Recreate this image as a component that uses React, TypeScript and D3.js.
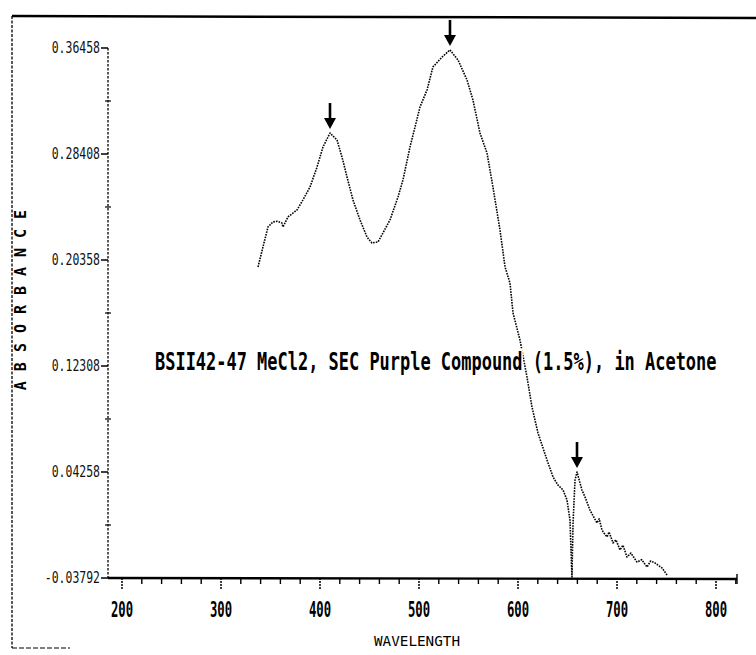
import { line, scaleLinear, range } from 'd3';

const width = 756;
const height = 655;

// spectrum: wavelength (nm) vs absorbance
const wavelengths = [
  337.4, 342.4, 347.5, 352.5, 357.0, 361.6, 362.6, 367.7, 376.8, 382.8, 389.9, 397.0, 403.0, 410.1,
  417.2, 422.2, 427.3, 433.3, 440.4, 447.5, 452.5, 458.6, 463.6, 470.7, 478.8, 483.8, 490.9, 496.0,
  501.0, 508.1, 514.1, 523.2, 531.3, 539.4, 548.5, 554.5, 561.6, 568.7, 574.7, 581.8, 586.9, 591.9,
  595.0, 602.0, 609.1, 614.1, 620.2, 629.3, 635.4, 640.0, 645.5, 649.5, 652.5, 654.5, 655.6, 657.6,
  659.6, 664.6, 668.0, 672.7, 676.0, 679.8, 682.0, 684.8, 687.0, 689.9, 692.0, 696.0, 699.0, 703.0,
  706.0, 710.1, 714.0, 720.2, 725.0, 730.3, 734.0, 738.4, 742.0, 745.5, 750.5,
];
const absorbance = [
  0.1983, 0.2135, 0.2287, 0.2325, 0.2330, 0.2317, 0.2287, 0.2363, 0.2416, 0.2492, 0.2590, 0.2742, 0.2894, 0.3000,
  0.2947, 0.2818, 0.2666, 0.2492, 0.2340, 0.2210, 0.2165, 0.2173, 0.2241, 0.2340, 0.2514, 0.2643, 0.2894, 0.3046,
  0.3198, 0.3327, 0.3502, 0.3577, 0.3631, 0.3555, 0.3403, 0.3251, 0.3000, 0.2848, 0.2590, 0.2264, 0.1983, 0.1861,
  0.1633, 0.1428, 0.1147, 0.0920, 0.0722, 0.0517, 0.0388, 0.0330, 0.0289, 0.0213, 0.0061, -0.0371, 0.0039, 0.0365,
  0.0426, 0.0289, 0.0230, 0.0137, 0.0090, 0.0039, 0.0070, -0.0014, -0.0040, -0.0067, -0.0030, -0.0113, -0.0090, -0.0166,
  -0.0130, -0.0220, -0.0190, -0.0258, -0.0240, -0.0296, -0.0250, -0.0265, -0.0285, -0.0303, -0.0356,
];

const peakWavelengths = [410.1, 531.3, 659.6];
const peakValues = [0.3, 0.3631, 0.0426];

const yTicks = [-0.03792, 0.04258, 0.12308, 0.20358, 0.28408, 0.36458];
const yTickLabels = ['-0.03792', '0.04258', '0.12308', '0.20358', '0.28408', '0.36458'];
const xTicks = [200, 300, 400, 500, 600, 700, 800];

const title = 'BSII42-47 MeCl2, SEC Purple Compound (1.5%), in Acetone';
const font = '"DejaVu Sans Mono", monospace';

export default function App() {
  const x = scaleLinear().domain([200, 800]).range([122, 716]);
  const y = scaleLinear().domain([-0.03792, 0.36458]).range([578, 48]);

  const points = wavelengths.map((w, i) => [w, absorbance[i]] as [number, number]);
  const path = line<[number, number]>()
    .x(d => x(d[0]))
    .y(d => y(d[1]))(points);

  const xMin = x.invert(108);
  const xMax = x.invert(737);
  const minorX = range(200, 821, 20).filter(v => v % 100 !== 0);
  const minorY = yTicks.slice(0, -1).map((t, i) => (t + yTicks[i + 1]) / 2);

  return (
    <svg width={width} height={height} style={{ position: 'absolute', left: 0, top: 0, background: '#fff' }}>
      {/* page frame */}
      <line x1={12} x2={756} y1={16} y2={18} stroke="#000" strokeWidth={2.5} />
      <line x1={12} x2={12} y1={16} y2={648} stroke="#000" strokeWidth={1.3} strokeDasharray="3 1.5" />
      <line x1={12} x2={70} y1={648} y2={648} stroke="#000" strokeWidth={1.2} strokeDasharray="5 2" />

      {/* y axis */}
      <line x1={108} x2={108} y1={y(0.36458)} y2={y(-0.03792)} stroke="#000" strokeWidth={1.3} strokeDasharray="2.5 1.5" />
      {yTicks.map((t, i) => (
        <g key={t}>
          <line x1={101} x2={108} y1={y(t)} y2={y(t)} stroke="#000" strokeWidth={1.5} />
          <text
            transform={`translate(100,${y(t) + 5}) scale(0.85,1.15)`}
            textAnchor="end"
            fontFamily={font}
            fontSize={13.5}
            fill="#111"
          >
            {yTickLabels[i]}
          </text>
        </g>
      ))}
      {minorY.map(t => (
        <line key={t} x1={105} x2={111} y1={y(t)} y2={y(t)} stroke="#000" strokeWidth={1.2} />
      ))}

      {/* x axis */}
      <line x1={x(xMin)} x2={x(xMax)} y1={578} y2={579} stroke="#000" strokeWidth={2.4} />
      {xTicks.map(t => (
        <g key={t}>
          <line x1={x(t)} x2={x(t)} y1={578} y2={589} stroke="#000" strokeWidth={1.5} strokeDasharray="2 1" />
          <text
            transform={`translate(${x(t)},617) scale(0.72,1.25)`}
            textAnchor="middle"
            fontFamily={font}
            fontWeight="bold"
            fontSize={17}
            fill="#000"
          >
            {t}
          </text>
        </g>
      ))}
      {minorX.map(t => (
        <line key={t} x1={x(t)} x2={x(t)} y1={579} y2={584} stroke="#000" strokeWidth={1.4} />
      ))}
      <line x1={737} x2={737} y1={574} y2={584} stroke="#000" strokeWidth={1.4} />

      {/* axis titles */}
      <text
        transform="translate(417,646) scale(1.1,1.1)"
        textAnchor="middle"
        fontFamily={font}
        fontSize={13}
        fill="#000"
      >
        WAVELENGTH
      </text>
      <text
        transform="translate(26,295) rotate(-90)"
        textAnchor="middle"
        fontFamily={font}
        fontWeight="bold"
        fontSize={15}
        letterSpacing={10}
        fill="#000"
      >
        ABSORBANCE
      </text>

      {/* spectrum */}
      {path && (
        <path d={path} fill="none" stroke="#000" strokeWidth={1.6} strokeDasharray="1.6 1.1" strokeLinejoin="round" />
      )}

      {/* peak arrows */}
      {peakWavelengths.map((w, i) => {
        const px = x(w);
        const tip = y(peakValues[i]) - 4;
        return (
          <g key={w}>
            <line x1={px} x2={px} y1={tip - 26} y2={tip - 9} stroke="#000" strokeWidth={2.6} />
            <path d={`M${px - 6},${tip - 11} L${px + 6},${tip - 11} L${px},${tip} Z`} fill="#000" />
          </g>
        );
      })}

      {/* annotation */}
      <text
        transform="translate(155,370) scale(1.022,1.45)"
        fontFamily={font}
        fontWeight="bold"
        fontSize={16.6}
        fill="#000"
        stroke="#fff"
        strokeWidth={3}
        paintOrder="stroke"
      >
        {title}
      </text>
    </svg>
  );
}
